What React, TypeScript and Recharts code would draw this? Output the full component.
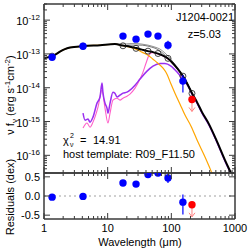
import React from 'react';
import { ComposedChart, Line, Scatter, XAxis, YAxis, ReferenceLine, ErrorBar, Customized } from 'recharts';

const FONT = '"Liberation Sans", Arial, Helvetica, sans-serif';
const AXIS = '#3a3a3a';

// ---------------- data (wavelength in micron, nu f_nu in erg s^-1 cm^-2) ----------------
const totalWave = [1.0, 1.34, 1.55, 1.78, 2.13, 2.56, 4.1, 7.6, 13, 17.4, 22.4, 27.9, 34.6, 43, 51.5, 61.7, 74, 88.6, 106, 127, 152, 183, 211, 253, 303, 390, 503, 696, 865, 1000];
const totalFlux = [7.5e-14, 8.6e-14, 9.9e-14, 1.17e-13, 1.39e-13, 1.54e-13, 1.7e-13, 1.82e-13, 1.95e-13, 1.76e-13, 1.64e-13, 1.49e-13, 1.34e-13, 1.21e-13, 1.13e-13, 1.02e-13, 8.9e-14, 7.3e-14, 5.3e-14, 3.55e-14, 2.2e-14, 1.19e-14, 6.9e-15, 3.75e-15, 1.9e-15, 8.4e-16, 3.0e-16, 7.2e-17, 2.97e-17, 1.6e-17];

const agnWave = [1.0, 1.34, 1.55, 1.78, 2.13, 2.56, 4.1, 7.6, 13, 17.4, 22.4, 27.9, 34.6, 43, 51.5, 61.7, 74, 85.5, 98.8, 114, 137, 164, 204, 262, 338, 435, 500];
const agnFlux = [7.5e-14, 8.6e-14, 9.9e-14, 1.17e-13, 1.39e-13, 1.54e-13, 1.7e-13, 1.82e-13, 1.94e-13, 1.76e-13, 1.59e-13, 1.39e-13, 1.13e-13, 9.2e-14, 7.0e-14, 5.3e-14, 3.8e-14, 2.52e-14, 1.28e-14, 6.9e-15, 3.27e-15, 1.55e-15, 7.3e-16, 2.46e-16, 8.9e-17, 2.97e-17, 1.6e-17];

const hostAWave = [4.1, 4.41, 4.91, 5.28, 5.88, 6.8, 7.58, 8.15, 8.45, 9.08, 9.76, 10.1, 10.9, 12.1, 13.0, 14.0, 15.6, 17.4, 20.1, 22.4, 26.9, 32.2, 41.5, 51.5, 66.4, 79.4, 98.8, 123, 147, 183, 211, 253, 303, 390, 503, 696, 865, 1000];
const hostAFlux = [1.77e-15, 1.1e-15, 1.18e-15, 9.6e-16, 1.35e-15, 3.5e-15, 5.3e-15, 1.37e-14, 6.9e-15, 3.5e-15, 2.5e-15, 1.77e-15, 3.5e-15, 7.4e-15, 6.9e-15, 5.3e-15, 6.0e-15, 6.9e-15, 7.4e-15, 8.5e-15, 1.19e-14, 1.8e-14, 3.1e-14, 4.35e-14, 5.2e-14, 5.2e-14, 4.35e-14, 2.9e-14, 1.92e-14, 1.11e-14, 6.5e-15, 3.5e-15, 1.77e-15, 7.8e-16, 2.8e-16, 6.7e-17, 2.8e-17, 1.5e-17];

const hostBWave = [4.1, 4.74, 5.28, 5.88, 7.05, 8.15, 9.08, 10.1, 10.9, 12.1, 14.0, 15.6, 17.4, 20.1, 22.4, 26.9, 32.2, 35.9, 40.0, 44.6, 49.7, 61.7, 74, 88.6, 106, 127, 152, 183, 211, 253, 303, 390, 503, 696, 865, 1000];
const hostBFlux = [6.4e-16, 9.0e-16, 6.8e-16, 9.6e-16, 2.67e-15, 8.5e-15, 2.5e-15, 9.0e-16, 1.77e-15, 4.3e-15, 4.9e-15, 4.3e-15, 4.9e-15, 5.6e-15, 6.5e-15, 9.7e-15, 1.8e-14, 2.9e-14, 5.3e-14, 9.2e-14, 1.09e-13, 1.0e-13, 8.7e-14, 7.1e-14, 5.2e-14, 3.5e-14, 2.15e-14, 1.16e-14, 6.7e-15, 3.65e-15, 1.85e-15, 8.2e-16, 2.9e-16, 7.0e-17, 2.9e-17, 1.55e-17];

const altAWave = [13, 17.4, 22.4, 27.9, 34.6, 43, 55.4, 66.4, 79.4, 95.3, 118, 152, 183, 211];
const altAFlux = [1.95e-13, 1.95e-13, 2.02e-13, 2.02e-13, 1.95e-13, 1.82e-13, 1.59e-13, 1.39e-13, 1.06e-13, 7.5e-14, 4.35e-14, 2.28e-14, 1.22e-14, 7.0e-15];

const altBWave = [17.4, 22.4, 32.2, 46.2, 61.7, 79.4, 102, 137, 164, 211];
const altBFlux = [1.76e-13, 1.82e-13, 1.82e-13, 1.64e-13, 1.34e-13, 9.2e-14, 5.3e-14, 2.9e-14, 1.8e-14, 7.0e-15];

// model photometry (open circles)
const modelWave = [1.34, 4.1, 17.4, 27.9, 43, 61.7, 88.6, 152, 211];
const modelFlux = [8.6e-14, 1.7e-13, 1.74e-13, 1.46e-13, 1.21e-13, 1.03e-13, 7.4e-14, 2.2e-14, 6.8e-15];

// observed photometry
const obsWave = [1.34, 4.1, 17.4, 27.9, 43, 61.7];
const obsFlux = [8.0e-14, 1.68e-13, 3.37e-13, 2.74e-13, 3.86e-13, 3.37e-13];
const obsErrWave = [88.6, 152];
const obsErrFlux = [1.82e-13, 1.57e-14];
const obsErrLow = [4.7e-14, 8.5e-15];
const obsErrHigh = [6.4e-14, 8.0e-15];
const limitWave = [211];
const limitFlux = [4.5e-15];

// residuals (dex)
const resWave = [1.34, 4.1, 17.4, 27.9, 43, 61.7];
const resVal = [-0.03, -0.01, 0.34, 0.31, 0.56, 0.6];
const resErrWave = [88.6, 152];
const resErrVal = [0.47, -0.16];
const resErrLow = [0.13, 0.32];
const resErrHigh = [0.12, 0.2];
const resLimitWave = [211];
const resLimitVal = [-0.23];

// ticks
const xTicks = [1, 2, 3, 4, 5, 6, 7, 8, 9, 10, 20, 30, 40, 50, 60, 70, 80, 90, 100, 200, 300, 400, 500, 600, 700, 800, 900, 1000];
const xTickLabels = ['1', '10', '100', '1000'];
const yMantissas = [1, 2, 3, 4, 5, 6, 7, 8, 9];
const yDecades = [-17, -16, -15, -14, -13, -12];
const yTicksTop = yDecades
  .flatMap((d) => yMantissas.map((m) => Number((m * Math.pow(10, d)).toPrecision(2))))
  .filter((v) => v >= 3e-17 && v <= 3e-12);
const resTicks = [-0.5, 0, 0.5];
const resTickLabels = ['-0.5', '0.0', '0.5'];

const zip = (w: number[], f: number[]) => w.map((v, i) => ({ w: v, f: f[i] }));
const zipErr = (w: number[], f: number[], lo: number[], hi: number[]) =>
  w.map((v, i) => ({ w: v, f: f[i], e: [lo[i], hi[i]] }));

const totalData = zip(totalWave, totalFlux);
const agnData = zip(agnWave, agnFlux);
const hostAData = zip(hostAWave, hostAFlux);
const hostBData = zip(hostBWave, hostBFlux);
const altAData = zip(altAWave, altAFlux);
const altBData = zip(altBWave, altBFlux);
const modelData = zip(modelWave, modelFlux);
const obsData = zip(obsWave, obsFlux);
const obsErrData = zipErr(obsErrWave, obsErrFlux, obsErrLow, obsErrHigh);
const limitData = zip(limitWave, limitFlux);
const resData = zip(resWave, resVal);
const resErrData = zipErr(resErrWave, resErrVal, resErrLow, resErrHigh);
const resLimitData = zip(resLimitWave, resLimitVal);

// ---------------- helpers ----------------
const isMajorLog = (v: number) => Math.abs(Math.log10(v) - Math.round(Math.log10(v))) < 1e-6;

const makeXTick = (dir: number, showLabel: boolean) => (props: any) => {
  const { x, y, payload } = props;
  const v = payload.value;
  const major = isMajorLog(v);
  const len = major ? 6 : 3;
  const lbl = xTickLabels.find((s) => Number(s) === v);
  return (
    <g>
      <line x1={x} x2={x} y1={y} y2={y + dir * len} stroke={AXIS} strokeWidth={1} />
      {showLabel && major && lbl && (
        <text x={x} y={y + 13} textAnchor="middle" fontSize={11} fontFamily={FONT} fill="#000">
          {lbl}
        </text>
      )}
    </g>
  );
};

const makeLogYTick = (dir: number, showLabel: boolean) => (props: any) => {
  const { x, y, payload } = props;
  const v = payload.value;
  const major = isMajorLog(v);
  const len = major ? 6 : 3;
  const e = Math.round(Math.log10(v));
  return (
    <g>
      <line x1={x} x2={x + dir * len} y1={y} y2={y} stroke={AXIS} strokeWidth={1} />
      {showLabel && major && (
        <text x={x - 4} y={y + 5} textAnchor="end" fontSize={11} fontFamily={FONT} fill="#000">
          10<tspan dy={-5} fontSize={8}>{String(e)}</tspan>
        </text>
      )}
    </g>
  );
};

const makeResYTick = (dir: number, showLabel: boolean) => (props: any) => {
  const { x, y, payload } = props;
  const v = payload.value;
  const idx = resTicks.indexOf(v);
  return (
    <g>
      <line x1={x} x2={x + dir * 6} y1={y} y2={y} stroke={AXIS} strokeWidth={1} />
      {showLabel && idx >= 0 && (
        <text x={x - 4} y={y + 4} textAnchor="end" fontSize={11} fontFamily={FONT} fill="#000">
          {resTickLabels[idx]}
        </text>
      )}
    </g>
  );
};

const BlueDot = (p: any) => <circle cx={p.cx} cy={p.cy} r={3.7} fill="#0000ff" />;
const OpenDot = (p: any) => <circle cx={p.cx} cy={p.cy} r={3} fill="none" stroke="#1a1a1a" strokeWidth={0.8} />;
const LimitDot = (p: any) => (
  <g>
    <line x1={p.cx} x2={p.cx} y1={p.cy} y2={p.cy + 12} stroke="#ff7f7f" strokeWidth={1} />
    <path d={`M${p.cx - 3},${p.cy + 8} L${p.cx},${p.cy + 12} L${p.cx + 3},${p.cy + 8}`} fill="none" stroke="#ff7f7f" strokeWidth={1} />
    <circle cx={p.cx} cy={p.cy} r={3.7} fill="#ff0000" />
  </g>
);

const TopTexts = () => (
  <g fontFamily={FONT} fill="#000">
    <text x={234} y={21} textAnchor="end" fontSize={11}>J1204-0021</text>
    <text x={221} y={38} textAnchor="end" fontSize={11}>z=5.03</text>
    <text x={63} y={144} fontSize={11}>χ</text>
    <text x={70} y={138} fontSize={7}>2</text>
    <text x={70} y={147} fontSize={7}>ν</text>
    <text x={80} y={144} fontSize={11}>=</text>
    <text x={93} y={144} fontSize={11}>14.91</text>
    <text x={63} y={157.5} fontSize={11}>host template: R09_F11.50</text>
    <text transform="rotate(-90)" x={-95} y={14} textAnchor="middle" fontSize={11}>
      ν f<tspan dy={3} fontSize={8}>ν</tspan>
      <tspan dy={-3}> (erg s</tspan>
      <tspan dy={-4} fontSize={8}>-1</tspan>
      <tspan dy={4}>cm</tspan>
      <tspan dy={-4} fontSize={8}>-2</tspan>
      <tspan dy={4}>)</tspan>
    </text>
  </g>
);

const BottomTexts = () => (
  <g fontFamily={FONT} fill="#000">
    <text x={140} y={245.5} textAnchor="middle" fontSize={11}>Wavelength (μm)</text>
    <text transform="rotate(-90)" x={-197} y={14} textAnchor="middle" fontSize={11}>Residuals (dex)</text>
  </g>
);

const axisLine = { stroke: AXIS, strokeWidth: 1.5 };

export default function App() {
  return (
    <div style={{ position: 'absolute', left: 0, top: 0, width: 249, height: 249, background: '#fff' }}>
      <div style={{ position: 'absolute', left: 0, top: 0 }}>
        <ComposedChart width={249} height={249} margin={{ top: 3, right: 13, bottom: 75, left: 0 }}>
          <XAxis xAxisId="b" dataKey="w" type="number" scale="log" domain={[1, 1000]} allowDataOverflow orientation="bottom"
            ticks={xTicks} interval={0} height={1} tickSize={0} tickMargin={0} tickLine={false} axisLine={axisLine} tick={makeXTick(-1, false)} />
          <XAxis xAxisId="t" dataKey="w" type="number" scale="log" domain={[1, 1000]} allowDataOverflow orientation="top"
            ticks={xTicks} interval={0} height={1} tickSize={0} tickMargin={0} tickLine={false} axisLine={axisLine} tick={makeXTick(1, false)} />
          <YAxis yAxisId="l" dataKey="f" type="number" scale="log" domain={[3e-17, 3e-12]} allowDataOverflow orientation="left"
            ticks={yTicksTop} interval={0} width={44} tickSize={0} tickMargin={0} tickLine={false} axisLine={axisLine} tick={makeLogYTick(1, true)} />
          <YAxis yAxisId="r" dataKey="f" type="number" scale="log" domain={[3e-17, 3e-12]} allowDataOverflow orientation="right"
            ticks={yTicksTop} interval={0} width={1} tickSize={0} tickMargin={0} tickLine={false} axisLine={axisLine} tick={makeLogYTick(-1, false)} />

          <Line data={hostBData} dataKey="f" xAxisId="b" yAxisId="l" type="monotone" stroke="#ff5fc8" strokeWidth={1.1} dot={false} isAnimationActive={false} />
          <Line data={hostAData} dataKey="f" xAxisId="b" yAxisId="l" type="monotone" stroke="#9a2ff0" strokeWidth={1.5} dot={false} isAnimationActive={false} />
          <Line data={agnData} dataKey="f" xAxisId="b" yAxisId="l" type="monotone" stroke="#ffa500" strokeWidth={1.2} dot={false} isAnimationActive={false} />
          <Line data={altAData} dataKey="f" xAxisId="b" yAxisId="l" type="monotone" stroke="#777" strokeWidth={0.8} dot={false} isAnimationActive={false} />
          <Line data={altBData} dataKey="f" xAxisId="b" yAxisId="l" type="monotone" stroke="#555" strokeWidth={0.8} dot={false} isAnimationActive={false} />
          <Line data={totalData} dataKey="f" xAxisId="b" yAxisId="l" type="monotone" stroke="#000" strokeWidth={2} dot={false} isAnimationActive={false} />

          <Scatter data={modelData} dataKey="f" xAxisId="b" yAxisId="l" shape={OpenDot} isAnimationActive={false} />
          <Scatter data={obsData} dataKey="f" xAxisId="b" yAxisId="l" shape={BlueDot} isAnimationActive={false} />
          <Scatter data={obsErrData} dataKey="f" xAxisId="b" yAxisId="l" shape={BlueDot} isAnimationActive={false}>
            <ErrorBar dataKey="e" direction="y" width={0} stroke="#0000ff" strokeWidth={1.2} />
          </Scatter>
          <Scatter data={limitData} dataKey="f" xAxisId="b" yAxisId="l" shape={LimitDot} isAnimationActive={false} />
          <Customized component={TopTexts} />
        </ComposedChart>
      </div>
      <div style={{ position: 'absolute', left: 0, top: 0 }}>
        <ComposedChart width={249} height={249} margin={{ top: 172, right: 13, bottom: 0, left: 0 }}>
          <XAxis xAxisId="b" dataKey="w" type="number" scale="log" domain={[1, 1000]} allowDataOverflow orientation="bottom"
            ticks={xTicks} interval={0} height={30} tickSize={0} tickMargin={0} tickLine={false} axisLine={axisLine} tick={makeXTick(-1, true)} />
          <XAxis xAxisId="t" dataKey="w" type="number" scale="log" domain={[1, 1000]} allowDataOverflow orientation="top"
            ticks={xTicks} interval={0} height={1} tickSize={0} tickMargin={0} tickLine={false} axisLine={axisLine} tick={makeXTick(1, false)} />
          <YAxis yAxisId="l" dataKey="f" type="number" domain={[-0.6, 0.6]} allowDataOverflow orientation="left"
            ticks={resTicks} interval={0} width={44} tickSize={0} tickMargin={0} tickLine={false} axisLine={axisLine} tick={makeResYTick(1, true)} />
          <YAxis yAxisId="r" dataKey="f" type="number" domain={[-0.6, 0.6]} allowDataOverflow orientation="right"
            ticks={resTicks} interval={0} width={1} tickSize={0} tickMargin={0} tickLine={false} axisLine={axisLine} tick={makeResYTick(-1, false)} />
          <ReferenceLine xAxisId="b" yAxisId="l" y={0} stroke="#a0a0a0" strokeDasharray="2 3" strokeWidth={1} />
          <Scatter data={resData} dataKey="f" xAxisId="b" yAxisId="l" shape={BlueDot} isAnimationActive={false} />
          <Scatter data={resErrData} dataKey="f" xAxisId="b" yAxisId="l" shape={BlueDot} isAnimationActive={false}>
            <ErrorBar dataKey="e" direction="y" width={0} stroke="#0000ff" strokeWidth={1.2} />
          </Scatter>
          <Scatter data={resLimitData} dataKey="f" xAxisId="b" yAxisId="l" shape={LimitDot} isAnimationActive={false} />
          <Customized component={BottomTexts} />
        </ComposedChart>
      </div>
    </div>
  );
}
